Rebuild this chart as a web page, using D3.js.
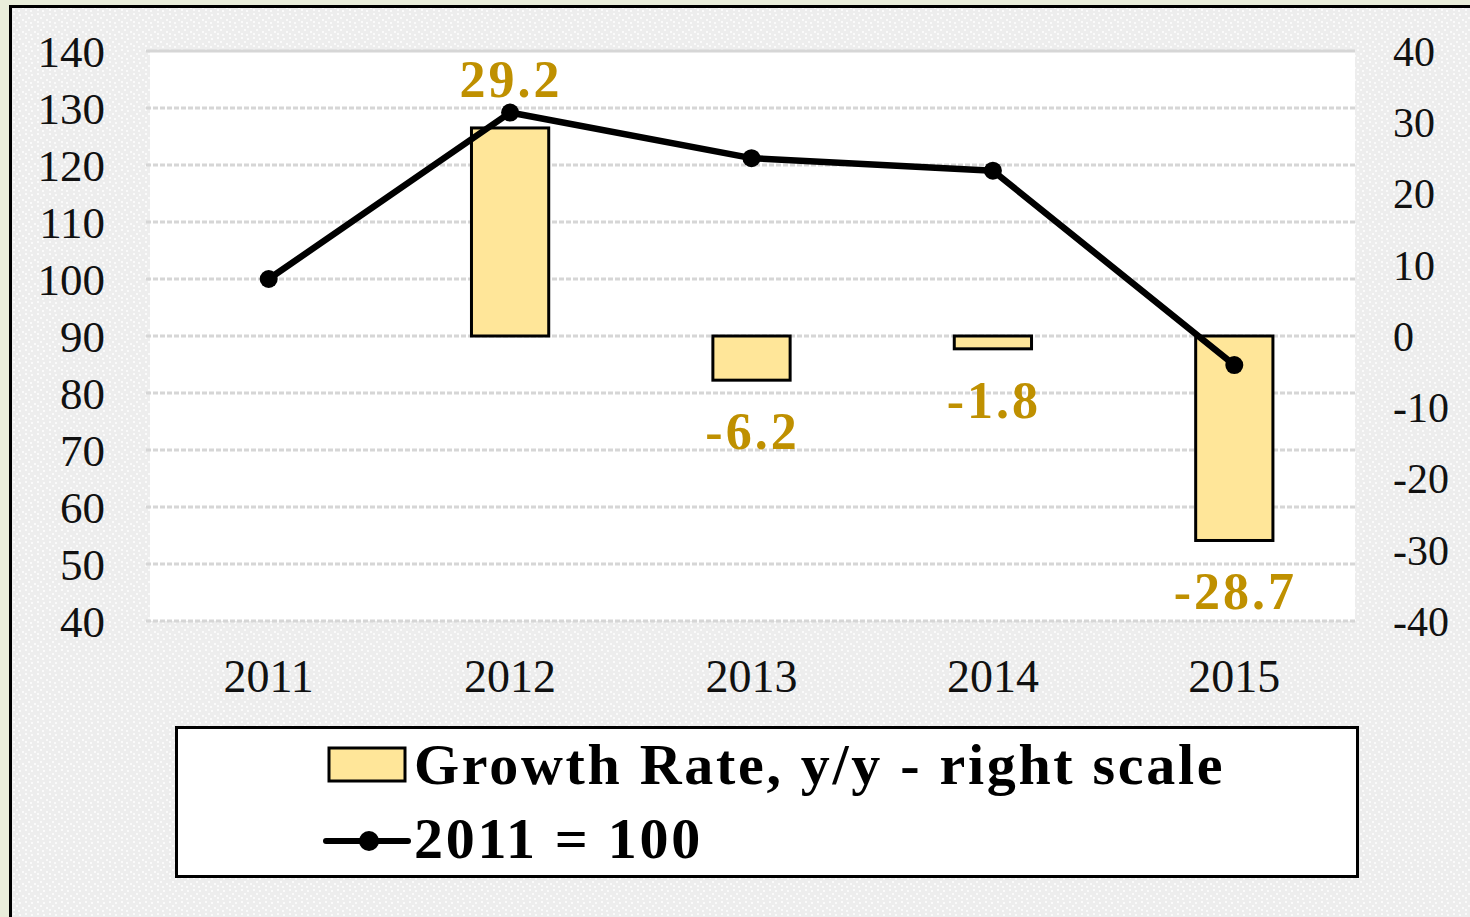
<!DOCTYPE html>
<html>
<head>
<meta charset="utf-8">
<script src="https://cdn.jsdelivr.net/npm/d3@7"></script>
<style>
  html, body { margin: 0; padding: 0; background: #EAEEDB; }
  svg { display: block; }
  text { font-family: "Liberation Serif", "Times New Roman", serif; }
</style>
</head>
<body>
<svg id="chart" width="1470" height="917"></svg>
<script>
// ---- Data ----
const categories = ["2011", "2012", "2013", "2014", "2015"];
const growthRate = [null, 29.2, -6.2, -1.8, -28.7];     // bars, right scale
const index2011 = [100, 129.2, 121.2, 119.0, 84.9];     // line, left scale
const leftTicks = [40, 50, 60, 70, 80, 90, 100, 110, 120, 130, 140];
const rightTicks = [-40, -30, -20, -10, 0, 10, 20, 30, 40];
const legendLabels = ["Growth Rate, y/y - right scale", "2011 = 100"];

const svg = d3.select("#chart");
const W = 1470, H = 917;

// background pattern
const defs = svg.append("defs");
const pat = defs.append("pattern").attr("id", "dots")
  .attr("patternUnits", "userSpaceOnUse").attr("width", 12).attr("height", 12);
pat.append("rect").attr("width", 12).attr("height", 12).attr("fill", "#EDEDED");
[[1,1],[7,2],[4,5],[10,7],[1,9],[6,10]].forEach(([x,y]) =>
  pat.append("rect").attr("x", x).attr("y", y).attr("width", 2).attr("height", 2).attr("fill", "#FAFAFA"));

svg.append("rect").attr("x", 0).attr("y", 0).attr("width", W).attr("height", H).attr("fill", "#EAEEDB");
svg.append("rect").attr("x", 10).attr("y", 7).attr("width", W - 10).attr("height", H - 7).attr("fill", "url(#dots)");
svg.append("line").attr("x1", 10.5).attr("x2", 10.5).attr("y1", 5).attr("y2", H).attr("stroke", "#000").attr("stroke-width", 3);
svg.append("line").attr("x1", 9).attr("x2", W).attr("y1", 6.5).attr("y2", 6.5).attr("stroke", "#000").attr("stroke-width", 3);

// plot area
const plot = { left: 148, right: 1355, top: 51, bottom: 621 };
const x = d3.scaleBand().domain(categories).range([plot.left, plot.right]).paddingInner(0.68).paddingOuter(0.34);
const yL = d3.scaleLinear().domain([40, 140]).range([plot.bottom, plot.top]);
const yR = d3.scaleLinear().domain([-40, 40]).range([plot.bottom, plot.top]);
const cx = c => x(c) + x.bandwidth() / 2;

svg.append("rect").attr("x", plot.left + 2).attr("y", plot.top).attr("width", plot.right - plot.left - 2)
  .attr("height", plot.bottom - plot.top).attr("fill", "#fff");

// gridlines
svg.append("g").selectAll("line").data(leftTicks).join("line")
  .attr("x1", plot.left - 2).attr("x2", plot.right)
  .attr("y1", d => yL(d)).attr("y2", d => yL(d))
  .attr("stroke", "#D6D6D6").attr("stroke-width", 3)
  .attr("stroke-dasharray", d => d === 140 ? null : "5,2");

// left axis
const axL = svg.append("g").attr("transform", `translate(105,0)`)
  .call(d3.axisLeft(yL).tickValues(leftTicks).tickSize(0).tickPadding(0).tickFormat(d => String(d)));
axL.select(".domain").remove();
axL.selectAll("text").attr("font-size", 45).attr("fill", "#111").attr("dy", "0.34em")
  .style("font-family", "'Liberation Serif', serif");

// right axis
const axR = svg.append("g").attr("transform", `translate(1393,0)`)
  .call(d3.axisRight(yR).tickValues(rightTicks).tickSize(0).tickPadding(0).tickFormat(d => String(d)));
axR.select(".domain").remove();
axR.selectAll("text").attr("font-size", 42).attr("fill", "#111").attr("dy", "0.34em")
  .style("font-family", "'Liberation Serif', serif");

// x axis labels
const axX = svg.append("g").attr("transform", `translate(0,${plot.bottom})`)
  .call(d3.axisBottom(x).tickSize(0).tickPadding(0));
axX.select(".domain").remove();
axX.selectAll("text").attr("font-size", 46).attr("fill", "#111").attr("dy", 0).attr("y", 71)
  .style("font-family", "'Liberation Serif', serif");

// bars
const barData = categories.map((c, i) => ({ c, v: growthRate[i] })).filter(d => d.v !== null);
svg.append("g").selectAll("rect").data(barData).join("rect")
  .attr("x", d => x(d.c)).attr("width", x.bandwidth())
  .attr("y", d => yR(Math.max(0, d.v)))
  .attr("height", d => Math.abs(yR(d.v) - yR(0)))
  .attr("fill", "#FFE699").attr("stroke", "#000").attr("stroke-width", 3);

// line
const lineData = categories.map((c, i) => ({ c, v: index2011[i] }));
svg.append("path").datum(lineData)
  .attr("d", d3.line().x(d => cx(d.c)).y(d => yL(d.v)))
  .attr("fill", "none").attr("stroke", "#000").attr("stroke-width", 6.5).attr("stroke-linejoin", "round");
svg.append("g").selectAll("circle").data(lineData).join("circle")
  .attr("cx", d => cx(d.c)).attr("cy", d => yL(d.v)).attr("r", 9).attr("fill", "#000");

// value labels
svg.append("g").selectAll("text").data(barData).join("text")
  .attr("x", d => cx(d.c) + 1)
  .attr("y", d => d.v >= 0 ? yR(d.v) - 31 : yR(d.v) + 69)
  .attr("text-anchor", "middle").attr("font-size", 52).attr("font-weight", "bold")
  .attr("letter-spacing", 3).attr("fill", "#BF9000")
  .text(d => d.v.toFixed(1));

// legend
const lg = svg.append("g");
lg.append("rect").attr("x", 176.5).attr("y", 727.5).attr("width", 1181).attr("height", 149)
  .attr("fill", "#fff").attr("stroke", "#000").attr("stroke-width", 3);
lg.append("rect").attr("x", 329).attr("y", 748).attr("width", 76).attr("height", 33)
  .attr("fill", "#FFE699").attr("stroke", "#000").attr("stroke-width", 3);
lg.append("line").attr("x1", 326).attr("x2", 408).attr("y1", 841).attr("y2", 841)
  .attr("stroke", "#000").attr("stroke-width", 6).attr("stroke-linecap", "round");
lg.append("circle").attr("cx", 369).attr("cy", 841).attr("r", 10).attr("fill", "#000");
lg.selectAll("text.lt").data(legendLabels).join("text").attr("class", "lt")
  .attr("x", 414).attr("y", (d, i) => 784 + i * 74)
  .attr("font-size", 58).attr("font-weight", "bold").attr("letter-spacing", 2.7).attr("fill", "#000")
  .text(d => d);
</script>
</body>
</html>
